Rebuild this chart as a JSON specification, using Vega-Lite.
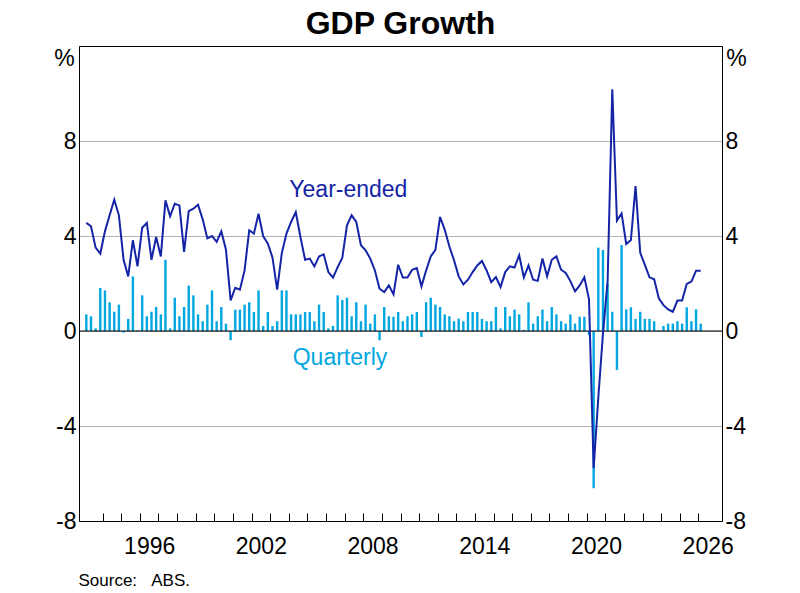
{
  "$schema": "https://vega.github.io/schema/vega-lite/v6.json",
  "width": 643,
  "height": 475,
  "autosize": "none",
  "padding": {"left": 79, "top": 46, "right": 78, "bottom": 72},
  "background": "white",
  "title": {
    "text": "GDP Growth",
    "font": "Liberation Sans",
    "fontSize": 32,
    "fontWeight": "bold",
    "color": "black",
    "anchor": "middle",
    "baseline": "bottom",
    "offset": 5,
    "dy": 32
  },
  "config": {
    "font": "Liberation Sans",
    "view": {"stroke": "black", "strokeWidth": 1},
    "axis": {"labelFont": "Liberation Sans", "titleFont": "Liberation Sans", "labelColor": "black", "titleColor": "black"}
  },
  "data": {
    "values": [
      {"t": 1993.125, "q": 0.7, "ye": 4.55},
      {"t": 1993.375, "q": 0.62, "ye": 4.41},
      {"t": 1993.625, "q": 0.11, "ye": 3.51},
      {"t": 1993.875, "q": 1.81, "ye": 3.26},
      {"t": 1994.125, "q": 1.71, "ye": 4.2},
      {"t": 1994.375, "q": 1.21, "ye": 4.87},
      {"t": 1994.625, "q": 0.81, "ye": 5.53},
      {"t": 1994.875, "q": 1.11, "ye": 4.87},
      {"t": 1995.125, "q": -0.07, "ye": 3.0},
      {"t": 1995.375, "q": 0.51, "ye": 2.3},
      {"t": 1995.625, "q": 2.3, "ye": 3.82},
      {"t": 1995.875, "q": 0.03, "ye": 2.72},
      {"t": 1996.125, "q": 1.5, "ye": 4.35},
      {"t": 1996.375, "q": 0.62, "ye": 4.55},
      {"t": 1996.625, "q": 0.81, "ye": 3.0},
      {"t": 1996.875, "q": 1.01, "ye": 3.96},
      {"t": 1997.125, "q": 0.7, "ye": 3.14},
      {"t": 1997.375, "q": 3.0, "ye": 5.5},
      {"t": 1997.625, "q": 0.11, "ye": 4.83},
      {"t": 1997.875, "q": 1.4, "ye": 5.36},
      {"t": 1998.125, "q": 0.62, "ye": 5.29},
      {"t": 1998.375, "q": 1.01, "ye": 3.33},
      {"t": 1998.625, "q": 1.91, "ye": 5.05},
      {"t": 1998.875, "q": 1.5, "ye": 5.15},
      {"t": 1999.125, "q": 0.7, "ye": 5.32},
      {"t": 1999.375, "q": 0.41, "ye": 4.7},
      {"t": 1999.625, "q": 1.11, "ye": 3.9},
      {"t": 1999.875, "q": 1.71, "ye": 4.0},
      {"t": 2000.125, "q": 0.41, "ye": 3.75},
      {"t": 2000.375, "q": 1.01, "ye": 4.2},
      {"t": 2000.625, "q": 0.31, "ye": 3.42},
      {"t": 2000.875, "q": -0.39, "ye": 1.29},
      {"t": 2001.125, "q": 0.9, "ye": 1.82},
      {"t": 2001.375, "q": 0.9, "ye": 1.74},
      {"t": 2001.625, "q": 1.11, "ye": 2.55},
      {"t": 2001.875, "q": 1.21, "ye": 4.24},
      {"t": 2002.125, "q": 0.8, "ye": 4.1},
      {"t": 2002.375, "q": 1.71, "ye": 4.94},
      {"t": 2002.625, "q": 0.21, "ye": 3.99},
      {"t": 2002.875, "q": 0.8, "ye": 3.68},
      {"t": 2003.125, "q": 0.21, "ye": 3.09},
      {"t": 2003.375, "q": 0.41, "ye": 1.74},
      {"t": 2003.625, "q": 1.71, "ye": 3.28},
      {"t": 2003.875, "q": 1.71, "ye": 4.1},
      {"t": 2004.125, "q": 0.7, "ye": 4.59},
      {"t": 2004.375, "q": 0.7, "ye": 5.01},
      {"t": 2004.625, "q": 0.7, "ye": 3.96},
      {"t": 2004.875, "q": 0.8, "ye": 3.0},
      {"t": 2005.125, "q": 0.8, "ye": 3.05},
      {"t": 2005.375, "q": 0.41, "ye": 2.72},
      {"t": 2005.625, "q": 1.11, "ye": 3.14},
      {"t": 2005.875, "q": 0.8, "ye": 3.23},
      {"t": 2006.125, "q": 0.11, "ye": 2.48},
      {"t": 2006.375, "q": 0.21, "ye": 2.25},
      {"t": 2006.625, "q": 1.5, "ye": 2.69},
      {"t": 2006.875, "q": 1.31, "ye": 3.09},
      {"t": 2007.125, "q": 1.4, "ye": 4.45},
      {"t": 2007.375, "q": 0.62, "ye": 4.87},
      {"t": 2007.625, "q": 1.21, "ye": 4.59},
      {"t": 2007.875, "q": 0.41, "ye": 3.61},
      {"t": 2008.125, "q": 1.11, "ye": 3.4},
      {"t": 2008.375, "q": 0.31, "ye": 3.05},
      {"t": 2008.625, "q": 0.7, "ye": 2.55},
      {"t": 2008.875, "q": -0.39, "ye": 1.78},
      {"t": 2009.125, "q": 1.01, "ye": 1.64},
      {"t": 2009.375, "q": 0.62, "ye": 1.92},
      {"t": 2009.625, "q": 0.6, "ye": 1.54},
      {"t": 2009.875, "q": 0.8, "ye": 2.79},
      {"t": 2010.125, "q": 0.41, "ye": 2.25},
      {"t": 2010.375, "q": 0.62, "ye": 2.25},
      {"t": 2010.625, "q": 0.7, "ye": 2.58},
      {"t": 2010.875, "q": 0.8, "ye": 2.65},
      {"t": 2011.125, "q": -0.25, "ye": 1.88},
      {"t": 2011.375, "q": 1.21, "ye": 2.55},
      {"t": 2011.625, "q": 1.4, "ye": 3.14},
      {"t": 2011.875, "q": 1.11, "ye": 3.42},
      {"t": 2012.125, "q": 1.01, "ye": 4.8},
      {"t": 2012.375, "q": 0.7, "ye": 4.27},
      {"t": 2012.625, "q": 0.62, "ye": 3.56},
      {"t": 2012.875, "q": 0.41, "ye": 2.98},
      {"t": 2013.125, "q": 0.52, "ye": 2.3},
      {"t": 2013.375, "q": 0.41, "ye": 1.96},
      {"t": 2013.625, "q": 0.8, "ye": 2.16},
      {"t": 2013.875, "q": 0.8, "ye": 2.48},
      {"t": 2014.125, "q": 0.8, "ye": 2.76},
      {"t": 2014.375, "q": 0.51, "ye": 2.95},
      {"t": 2014.625, "q": 0.41, "ye": 2.55},
      {"t": 2014.875, "q": 0.41, "ye": 2.06},
      {"t": 2015.125, "q": 1.01, "ye": 2.27},
      {"t": 2015.375, "q": 0.11, "ye": 1.85},
      {"t": 2015.625, "q": 1.01, "ye": 2.48},
      {"t": 2015.875, "q": 0.62, "ye": 2.72},
      {"t": 2016.125, "q": 0.9, "ye": 2.67},
      {"t": 2016.375, "q": 0.7, "ye": 3.19},
      {"t": 2016.625, "q": 0.05, "ye": 2.25},
      {"t": 2016.875, "q": 1.21, "ye": 2.76},
      {"t": 2017.125, "q": 0.31, "ye": 2.16},
      {"t": 2017.375, "q": 0.62, "ye": 2.11},
      {"t": 2017.625, "q": 0.9, "ye": 3.05},
      {"t": 2017.875, "q": 0.41, "ye": 2.3},
      {"t": 2018.125, "q": 1.01, "ye": 3.0},
      {"t": 2018.375, "q": 0.7, "ye": 3.14},
      {"t": 2018.625, "q": 0.41, "ye": 2.58},
      {"t": 2018.875, "q": 0.31, "ye": 2.44},
      {"t": 2019.125, "q": 0.7, "ye": 2.1},
      {"t": 2019.375, "q": 0.31, "ye": 1.67},
      {"t": 2019.625, "q": 0.6, "ye": 1.92},
      {"t": 2019.875, "q": 0.6, "ye": 2.26},
      {"t": 2020.125, "q": -0.17, "ye": 1.33},
      {"t": 2020.375, "q": -6.62, "ye": -5.78},
      {"t": 2020.625, "q": 3.51, "ye": -2.8},
      {"t": 2020.875, "q": 3.41, "ye": -0.1},
      {"t": 2021.125, "q": 2.0, "ye": 2.1},
      {"t": 2021.375, "q": 0.81, "ye": 10.18},
      {"t": 2021.625, "q": -1.64, "ye": 4.65},
      {"t": 2021.875, "q": 3.62, "ye": 4.95},
      {"t": 2022.125, "q": 0.91, "ye": 3.66},
      {"t": 2022.375, "q": 1.0, "ye": 3.83},
      {"t": 2022.625, "q": 0.51, "ye": 6.1},
      {"t": 2022.875, "q": 0.81, "ye": 3.3},
      {"t": 2023.125, "q": 0.51, "ye": 2.78},
      {"t": 2023.375, "q": 0.51, "ye": 2.26},
      {"t": 2023.625, "q": 0.41, "ye": 2.18},
      {"t": 2023.875, "q": 0.03, "ye": 1.38},
      {"t": 2024.125, "q": 0.21, "ye": 1.09},
      {"t": 2024.375, "q": 0.31, "ye": 0.91},
      {"t": 2024.625, "q": 0.31, "ye": 0.81},
      {"t": 2024.875, "q": 0.41, "ye": 1.28},
      {"t": 2025.125, "q": 0.31, "ye": 1.28},
      {"t": 2025.375, "q": 1.0, "ye": 1.98},
      {"t": 2025.625, "q": 0.41, "ye": 2.08},
      {"t": 2025.875, "q": 0.91, "ye": 2.54},
      {"t": 2026.125, "q": 0.31, "ye": 2.54}
    ]
  },
  "layer": [
    {
      "mark": {"type": "bar", "color": "#00A7E1", "size": 2.4},
      "encoding": {
        "x": {
          "field": "t",
          "type": "quantitative",
          "scale": {"domain": [1993, 2027], "nice": false, "zero": false},
          "axis": {
            "orient": "bottom",
            "values": [1994, 1995, 1996, 1997, 1998, 1999, 2000, 2001, 2002, 2003, 2004, 2005, 2006, 2007, 2008, 2009, 2010, 2011, 2012, 2013, 2014, 2015, 2016, 2017, 2018, 2019, 2020, 2021, 2022, 2023, 2024, 2025, 2026],
            "labels": false,
            "ticks": true,
            "tickSize": -8,
            "tickColor": "black",
            "domain": true,
            "domainColor": "black",
            "grid": false,
            "title": null
          }
        },
        "y": {
          "field": "q",
          "type": "quantitative",
          "scale": {"domain": [-8, 12], "nice": false},
          "axis": {
            "orient": "left",
            "values": [-8, -4, 0, 4, 8],
            "labelExpr": "'' + datum.value",
            "labelFontSize": 23,
            "labelPadding": 3,
            "ticks": false,
            "domain": true,
            "domainColor": "black",
            "grid": true,
            "gridColor": "#b3b3b3",
            "title": "%",
            "titleAngle": 0,
            "titleFontSize": 23,
            "titleFontWeight": "normal",
            "titleAlign": "center",
            "titleBaseline": "middle",
            "titleX": -15,
            "titleY": 12
          }
        }
      }
    },
    {
      "data": {"values": [{}]},
      "mark": {"type": "rule", "color": "black", "strokeWidth": 1.2},
      "encoding": {
        "y": {"datum": 0, "type": "quantitative", "scale": {"domain": [-8, 12], "nice": false}, "axis": null}
      }
    },
    {
      "mark": {"type": "line", "color": "#1424A6", "strokeWidth": 2},
      "encoding": {
        "x": {
          "field": "t",
          "type": "quantitative",
          "scale": {"domain": [1993, 2027], "nice": false, "zero": false},
          "axis": {
            "orient": "bottom",
            "values": [1996.5, 2002.5, 2008.5, 2014.5, 2020.5, 2026.5],
            "labelExpr": "'' + floor(datum.value)",
            "labelFontSize": 23,
            "labelPadding": 14,
            "labelFlush": false,
            "labelOverlap": false,
            "ticks": false,
            "domain": false,
            "grid": false,
            "title": "Source:\u00a0\u00a0\u00a0ABS.",
            "titleFontSize": 17,
            "titleFontWeight": "normal",
            "titleAngle": 0,
            "titleAlign": "left",
            "titleBaseline": "middle",
            "titleX": -1,
            "titleY": 59
          }
        },
        "y": {
          "field": "ye",
          "type": "quantitative",
          "scale": {"domain": [-8, 12], "nice": false},
          "axis": {
            "orient": "right",
            "values": [-8, -4, 0, 4, 8],
            "labelExpr": "'' + datum.value",
            "labelFontSize": 23,
            "labelPadding": 3,
            "ticks": false,
            "domain": true,
            "domainColor": "black",
            "grid": false,
            "title": "%",
            "titleAngle": 0,
            "titleFontSize": 23,
            "titleFontWeight": "normal",
            "titleAlign": "center",
            "titleBaseline": "middle",
            "titleX": 14,
            "titleY": 12
          }
        }
      }
    },
    {
      "data": {"values": [{}]},
      "mark": {"type": "text", "text": "Year-ended", "color": "#1424A6", "fontSize": 23, "align": "center", "baseline": "middle"},
      "encoding": {
        "x": {"datum": 2007.2, "type": "quantitative", "scale": {"domain": [1993, 2027], "nice": false, "zero": false}, "axis": null},
        "y": {"datum": 5.93, "type": "quantitative", "scale": {"domain": [-8, 12], "nice": false}, "axis": null}
      }
    },
    {
      "data": {"values": [{}]},
      "mark": {"type": "text", "text": "Quarterly", "color": "#00A7E1", "fontSize": 23, "align": "center", "baseline": "middle"},
      "encoding": {
        "x": {"datum": 2006.75, "type": "quantitative", "scale": {"domain": [1993, 2027], "nice": false, "zero": false}, "axis": null},
        "y": {"datum": -1.13, "type": "quantitative", "scale": {"domain": [-8, 12], "nice": false}, "axis": null}
      }
    }
  ],
  "resolve": {"axis": {"x": "independent", "y": "independent"}}
}
